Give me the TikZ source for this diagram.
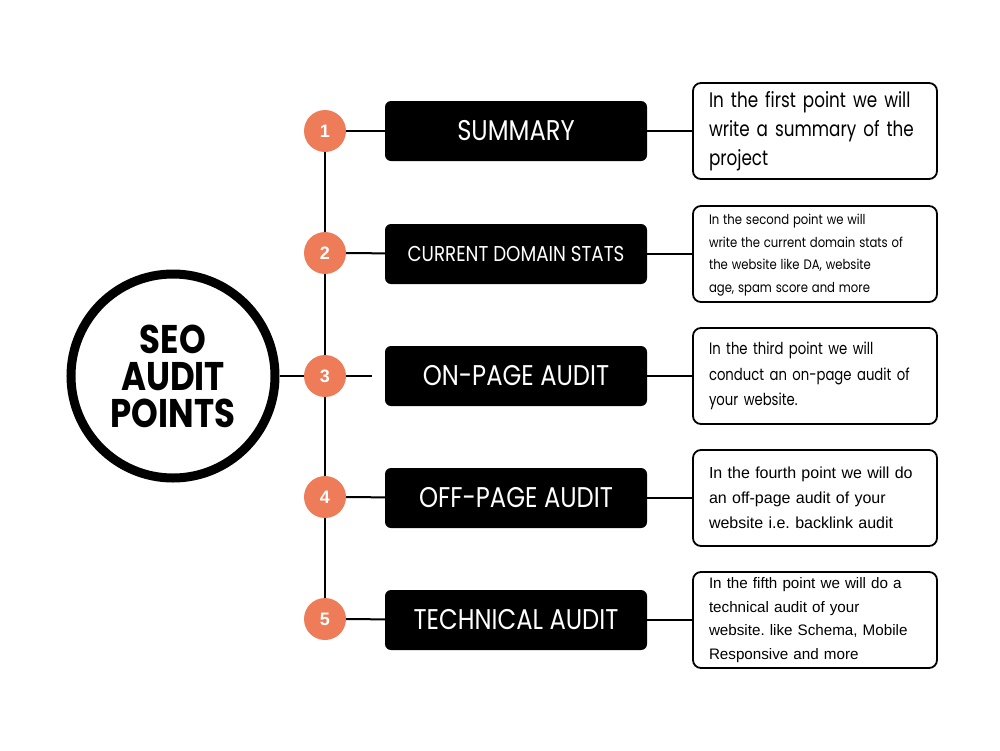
\documentclass[tikz,border=0pt]{standalone}
\usepackage{graphicx}
\usepackage{fontspec}
\setmainfont{Liberation Sans}
\newfontfamily\headfont[FakeStretch=0.85]{Poppins}
\newfontfamily\notefont[FakeStretch=0.8]{Poppins}
\newfontfamily\plainfont{Poppins}
\definecolor{numorange}{RGB}{238,124,88}
\frenchspacing

\tikzset{
  hub/.style={circle, draw=black, line width=9pt, minimum size=204pt, inner sep=0pt,
    align=center, font=\headfont\bfseries\fontsize{40}{37}\selectfont},
  num/.style={circle, fill=numorange, minimum size=42pt, inner sep=0pt, text=white,
    font=\bfseries\fontsize{18}{18}\selectfont},
  headbox/.style={rectangle, rounded corners=6pt, fill=black, text=white,
    minimum width=262pt, minimum height=60pt, inner sep=0pt},
  notebox/.style={rectangle, rounded corners=8pt, draw=black, line width=1.8pt,
    minimum width=244pt, minimum height=96pt, inner xsep=16pt, inner ysep=0pt,
    text width=212pt, align=left},
  link/.style={line width=2pt}
}

\begin{document}
\begin{tikzpicture}[x=1pt, y=-1pt]
  \useasboundingbox (0,0) rectangle (1000,750);

  % title
  \node[hub] (seo) at (173,376) {SEO\\AUDIT\\POINTS};

  % numbered points
  \node[num] (n1) at (325,131) {1};
  \node[num] (n2) at (325,253) {2};
  \node[num] (n3) at (325,376) {3};
  \node[num] (n4) at (325,497) {4};
  \node[num] (n5) at (325,619) {5};

  % headings
  \node[headbox, font=\headfont\fontsize{28.5}{28.5}\selectfont] (h1) at (516,131) {SUMMARY};
  \node[headbox, font=\headfont\fontsize{21.5}{21.5}\selectfont] (h2) at (516,254) {CURRENT DOMAIN STATS};
  \node[headbox, font=\headfont\fontsize{28.5}{28.5}\selectfont] (h3) at (516,376) {ON-PAGE AUDIT};
  \node[headbox, font=\headfont\fontsize{28.5}{28.5}\selectfont] (h4) at (516,498) {OFF-PAGE AUDIT};
  \node[headbox, font=\headfont\fontsize{28.5}{28.5}\selectfont] (h5) at (516,620) {TECHNICAL AUDIT};

  % notes
  \node[notebox, font=\notefont\fontsize{21}{29}\selectfont] (t1) at (815,131)
    {In the first point we will\\write a summary of the\\project};
  \node[notebox, font=\plainfont\fontsize{13.7}{22.5}\selectfont] (t2) at (815,254)
    {\scalebox{0.85}[1]{\begin{tabular}{@{}l@{}}
      In the second point we will\\
      write the current domain stats of\\
      the website like DA, website\\
      age, spam score and more
    \end{tabular}}};
  \node[notebox, font=\notefont\fontsize{16.5}{25.5}\selectfont] (t3) at (815,376)
    {In the third point we will\\conduct an on-page audit of\\your website.};
  \node[notebox, font=\fontsize{16}{25}\selectfont] (t4) at (815,498)
    {In the fourth point we will do\\an off-page audit of your\\website i.e. backlink audit};
  \node[notebox, font=\fontsize{15.2}{23.5}\selectfont] (t5) at (815,620)
    {In the fifth point we will do a\\technical audit of your\\website. like Schema, Mobile\\Responsive and more};

  % connectors
  \draw[link] (seo) -- (n3);
  \draw[link] (n1) -- (n2) (n2) -- (n3) (n3) -- (n4) (n4) -- (n5);
  \draw[link] (n1) -- (h1);
  \draw[link] (n2) -- (h2);
  \draw[link, shorten >=13pt] (n3) -- (h3);
  \draw[link] (n4) -- (h4);
  \draw[link] (n5) -- (h5);
  \draw[link] (h1) -- (t1);
  \draw[link] (h2) -- (t2);
  \draw[link] (h3) -- (t3);
  \draw[link] (h4) -- (t4);
  \draw[link] (h5) -- (t5);
\end{tikzpicture}
\end{document}
